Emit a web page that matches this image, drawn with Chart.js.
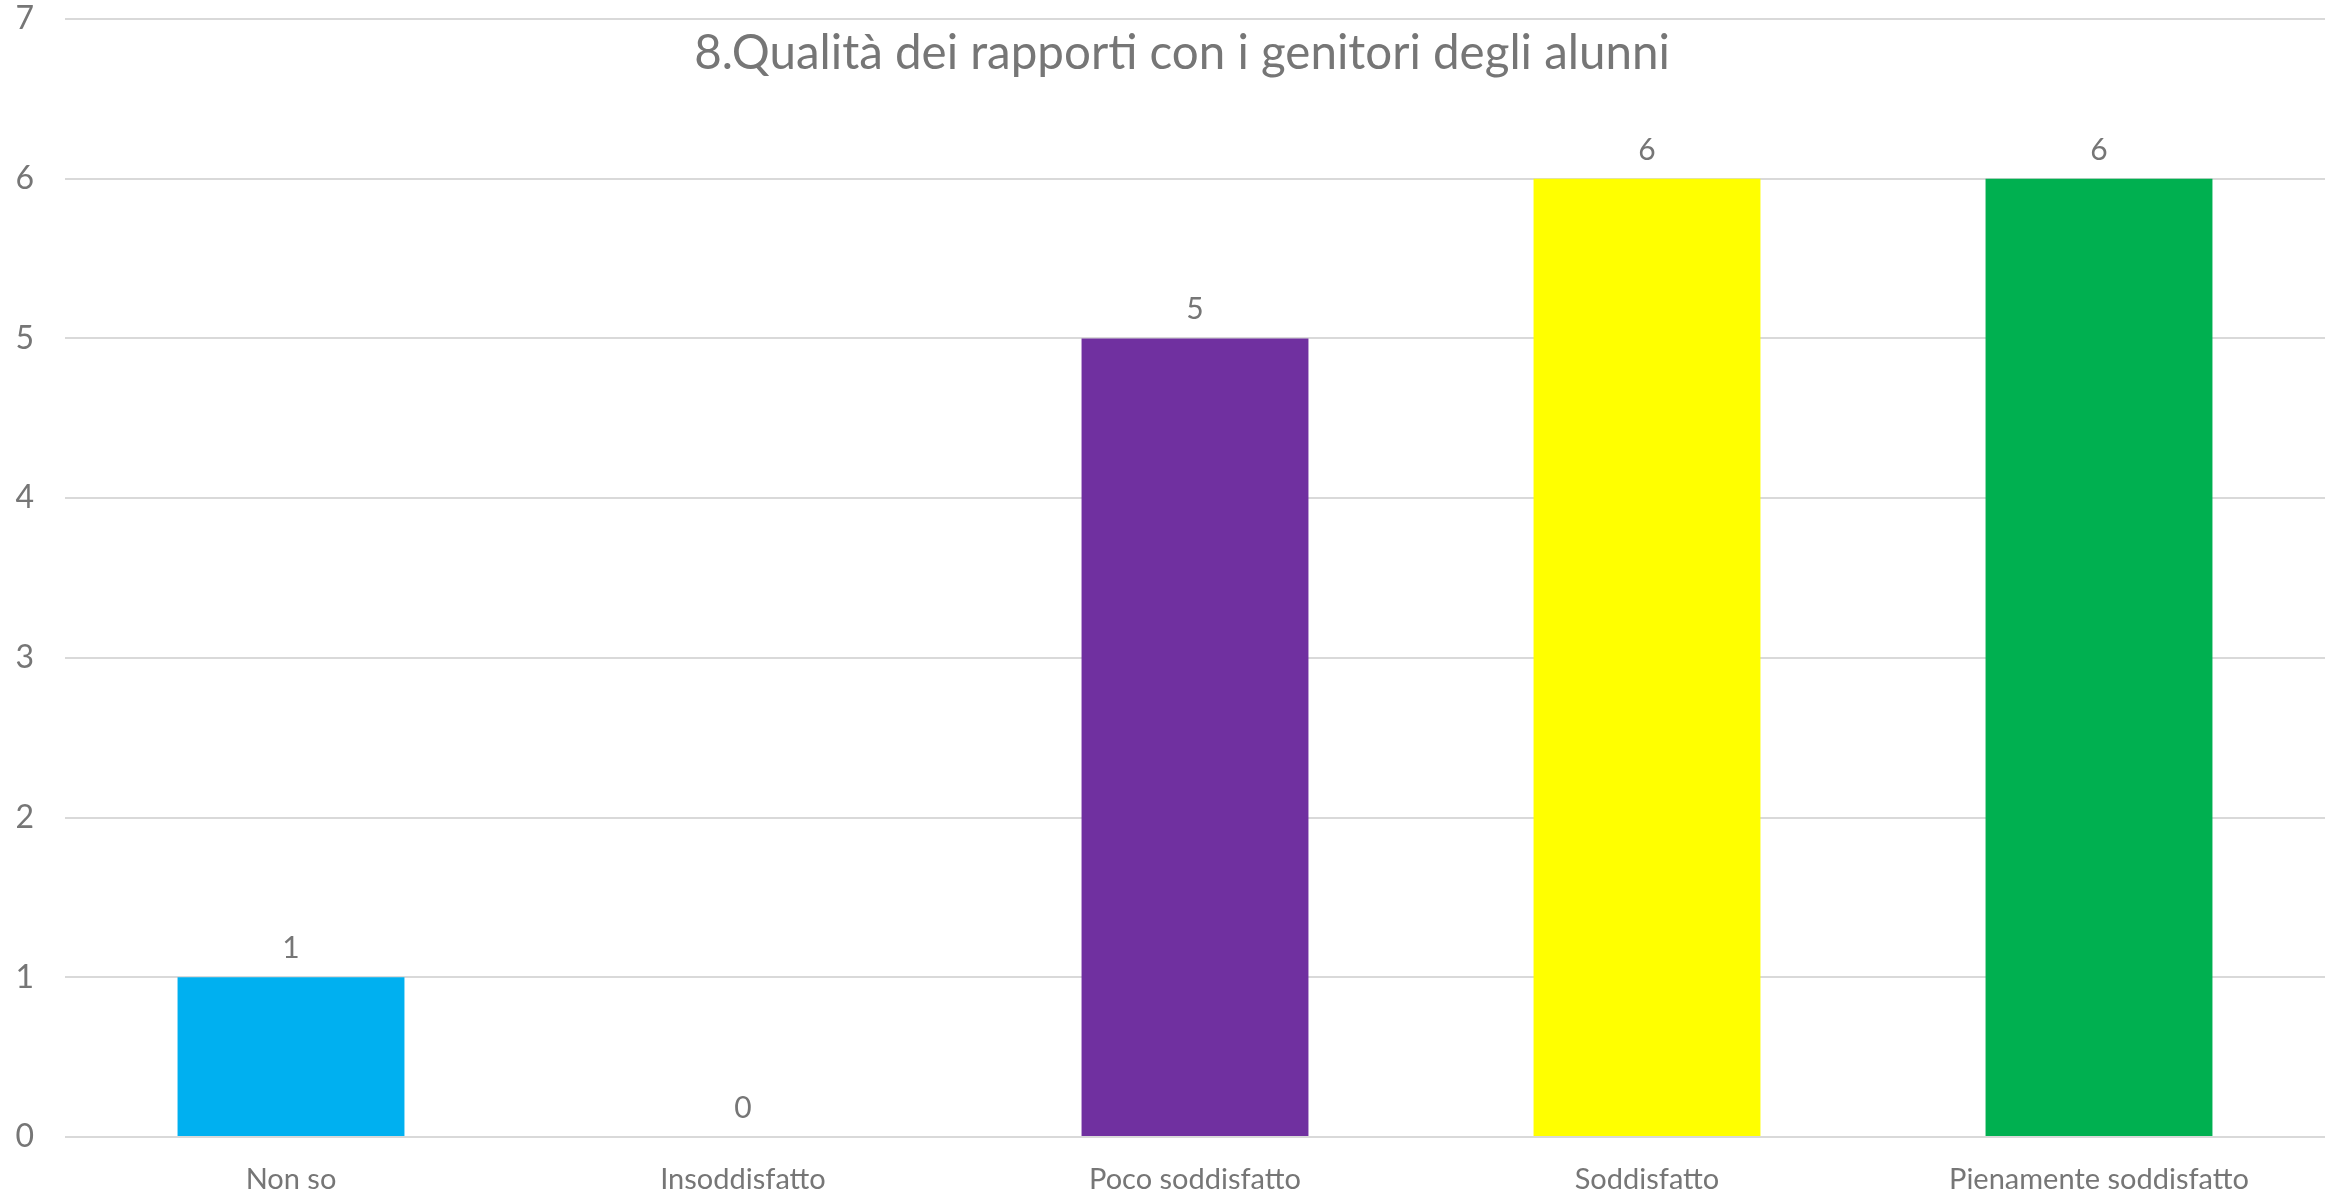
<!DOCTYPE html>
<html>
<head>
<meta charset="utf-8">
<script src="https://cdn.jsdelivr.net/npm/chart.js@4.4.1/dist/chart.umd.min.js"></script>
<style>
  html, body { margin: 0; padding: 0; background: #ffffff; }
  #wrap { width: 2341px; height: 1196px; position: relative; }
</style>
</head>
<body>
<div id="wrap"><canvas id="c" width="2341" height="1196"></canvas></div>
<script>
const chartTitle = "8.Qualità dei rapporti con i genitori degli alunni";
const categories = ["Non so", "Insoddisfatto", "Poco soddisfatto", "Soddisfatto", "Pienamente soddisfatto"];
const values = [1, 0, 5, 6, 6];
const barColors = ["#00B0F0", "#00B0F0", "#7030A0", "#FFFF00", "#00B050"];
const yTicks = [0, 1, 2, 3, 4, 5, 6, 7];

const TEXT = "#767676";
const FONT = "Lato, 'Open Sans', sans-serif";

const titlePlugin = {
  id: "overlayTitle",
  afterDraw(chart) {
    const ctx = chart.ctx;
    ctx.save();
    ctx.font = "47.5px " + FONT;
    ctx.fillStyle = TEXT;
    ctx.textAlign = "center";
    ctx.textBaseline = "alphabetic";
    ctx.fillText(chartTitle, 1182, 69);
    ctx.restore();
  }
};

const valueLabels = {
  id: "valueLabels",
  afterDatasetsDraw(chart) {
    const ctx = chart.ctx;
    const meta = chart.getDatasetMeta(0);
    ctx.save();
    ctx.font = "30px " + FONT;
    ctx.fillStyle = TEXT;
    ctx.textAlign = "center";
    ctx.textBaseline = "alphabetic";
    meta.data.forEach((bar, i) => {
      ctx.fillText(String(values[i]), bar.x, bar.y - 19);
    });
    ctx.restore();
  }
};

new Chart(document.getElementById("c"), {
  type: "bar",
  data: {
    labels: categories,
    datasets: [{
      data: values,
      backgroundColor: barColors,
      borderWidth: 0,
      categoryPercentage: 1.0,
      barPercentage: 0.502
    }]
  },
  options: {
    responsive: false,
    animation: false,
    devicePixelRatio: 1,
    layout: { padding: { left: 0, right: 16, top: 19, bottom: 0 } },
    plugins: {
      legend: { display: false },
      title: { display: false },
      tooltip: { enabled: false }
    },
    scales: {
      x: {
        grid: { display: false, drawTicks: false },
        border: { display: false },
        ticks: {
          color: TEXT,
          font: { family: FONT, size: 29 },
          padding: 25,
          maxRotation: 0,
          autoSkip: false
        },
        afterFit(scale) { scale.height = 59; }
      },
      y: {
        min: 0,
        max: 7,
        afterBuildTicks(scale) { scale.ticks = yTicks.map(v => ({ value: v })); },
        grid: { color: "#D9D9D9", lineWidth: 2, drawTicks: false },
        border: { display: false },
        ticks: {
          color: TEXT,
          font: { family: FONT, size: 32 },
          padding: 31
        },
        afterFit(scale) {
          scale.width = 65;
          scale.paddingTop = 0;
          scale.paddingBottom = 0;
        }
      }
    }
  },
  plugins: [titlePlugin, valueLabels]
});
</script>
</body>
</html>
